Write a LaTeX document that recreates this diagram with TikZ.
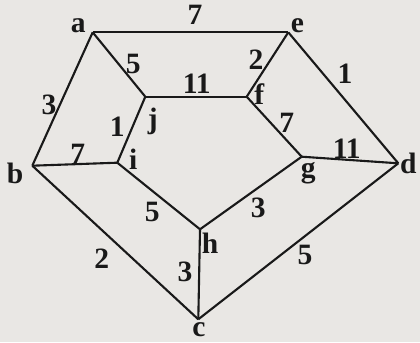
\documentclass[tikz,border=0pt]{standalone}
\usepackage{fontspec}
\setmainfont{Liberation Serif}
\usepackage{tikz}
\usetikzlibrary{positioning}
\definecolor{paper}{RGB}{233,231,228}
\definecolor{ink}{RGB}{25,25,25}

\begin{document}
\begin{tikzpicture}[x=0.025cm, y=-0.025cm,
  every node/.style={font=\fontsize{21}{23}\selectfont\bfseries, text=ink, inner sep=1pt},
  edge/.style={draw=ink, line width=1.5pt, line join=miter}]
  % papier
  \fill[paper] (0,0) rectangle (420,342);
  \useasboundingbox (0,0) rectangle (420,342);

  % Ecken
  \coordinate (a) at (92.7,32.3);
  \coordinate (e) at (288.3,32.3);
  \coordinate (b) at (32.3,165.7);
  \coordinate (d) at (398.3,163.3);
  \coordinate (c) at (198.3,319.3);
  \coordinate (j) at (145.3,96.7);
  \coordinate (f) at (246.7,96.7);
  \coordinate (i) at (117.3,162.7);
  \coordinate (g) at (301.7,156.7);
  \coordinate (h) at (200,229.3);

  % Namen der Ecken
  \node (la) at (78.3,26) {a};
  \node (le) at (297.3,26) {e};
  \node (lb) at (15,173.3) {b};
  \node (ld) at (408.3,163.3) {d};
  \node (lc) at (199,330) {c};
  \node (lj) at (152.7,121.7) {j};
  \node (lf) at (259.3,94) {f};
  \node (li) at (133.3,159.3) {i};
  \node (lg) at (308.3,173.3) {g};
  \node (lh) at (210,243.3) {h};

  % Kanten
  \draw[edge] (a) -- (e);
  \draw[edge] (a) -- (b);
  \draw[edge] (a) -- (j);
  \draw[edge] (e) -- (f);
  \draw[edge] (e) -- (d);
  \draw[edge] (j) -- (f);
  \draw[edge] (j) -- (i);
  \draw[edge] (f) -- (g);
  \draw[edge] (b) -- (i);
  \draw[edge] (g) -- (d);
  \draw[edge] (i) -- (h);
  \draw[edge] (h) -- (g);
  \draw[edge] (b) -- (c);
  \draw[edge] (h) -- (c);
  \draw[edge] (c) -- (d);

  % Gewichte
  \node (wae) at (195,15) {7};
  \node (waj) at (133.3,64) {5};
  \node (wef) at (256,60) {2};
  \node (wed) at (345,74) {1};
  \node (wab) at (49,105) {3};
  \node (wjf) at (196.7,83.3) {11};
  \node (wji) at (117.3,126.7) {1};
  \node (wfg) at (286.7,123.3) {7};
  \node (wbi) at (77.7,154.3) {7};
  \node (wgd) at (346.7,148.3) {11};
  \node (wih) at (152.3,211.7) {5};
  \node (whg) at (258.3,208.3) {3};
  \node (wbc) at (101.7,258.3) {2};
  \node (whc) at (185,271.7) {3};
  \node (wcd) at (305,255) {5};
\end{tikzpicture}
\end{document}
